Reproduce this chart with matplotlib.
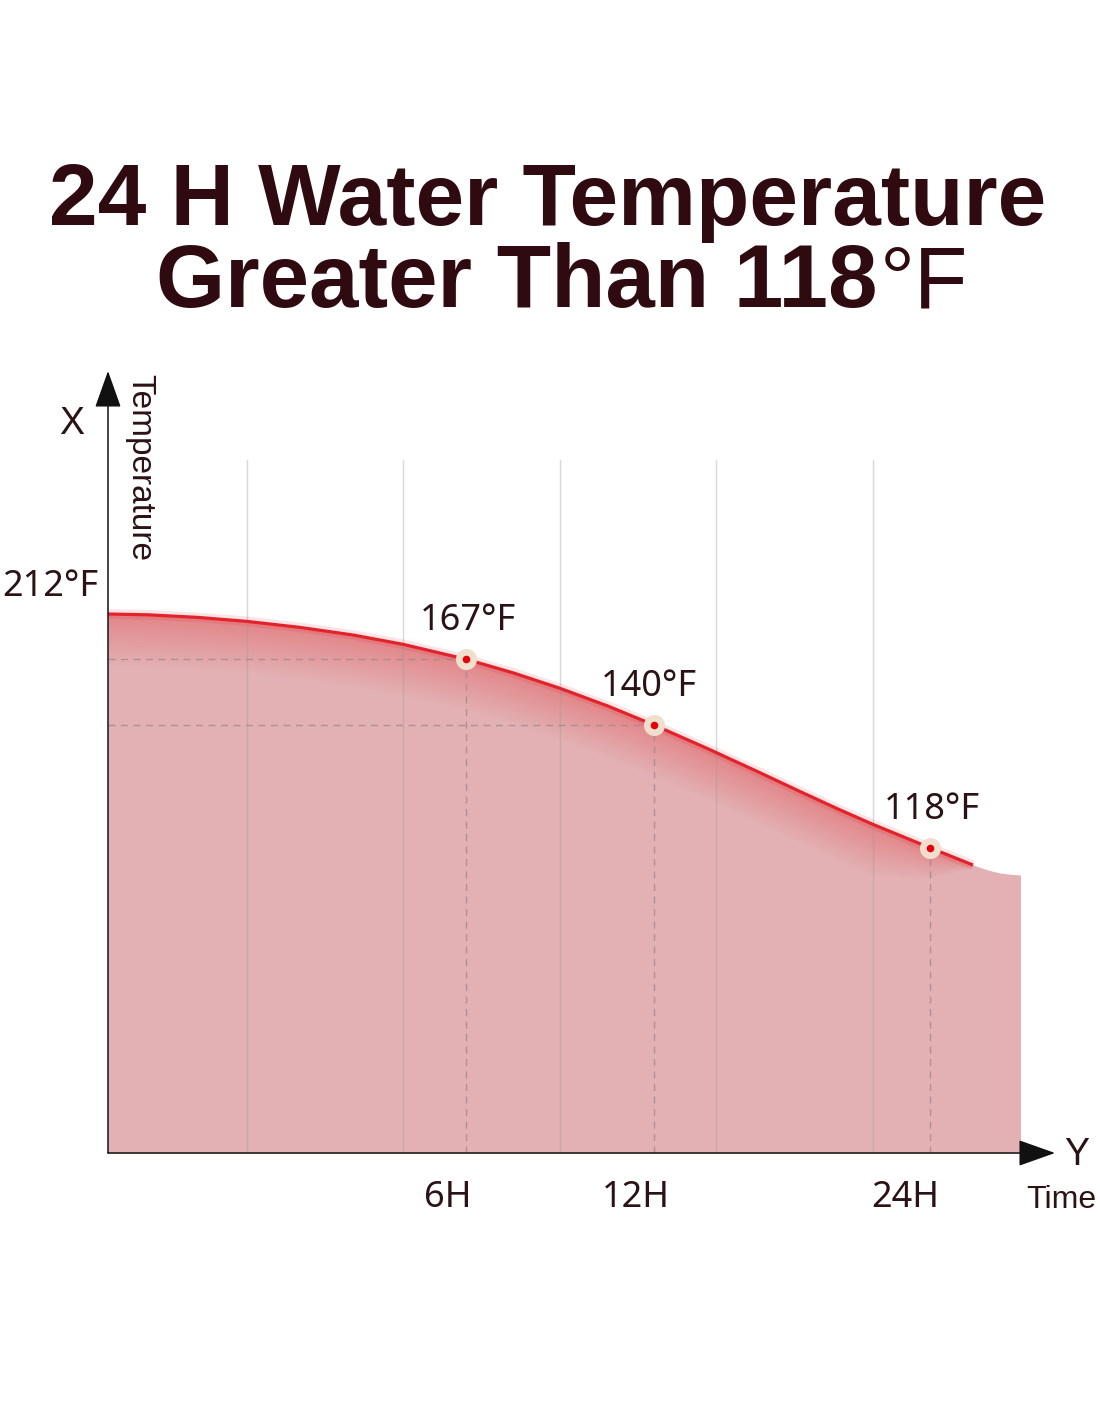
import matplotlib.pyplot as plt

# chart values
temps = ['212°F', '167°F', '140°F', '118°F']
time_labels = ['6H', '12H', '24H']

# curve (px from axis origin, x right / y up)
curve_x = [0, 40, 90, 139, 192, 245, 295, 358, 405, 452, 500, 546, 600, 650, 692, 730, 765, 822, 865]
curve_y = [539, 538.2, 535.6, 531.6, 525.6, 518, 508.7, 493.8, 480.2, 464.7, 446.9, 428,
           404.2, 381.2, 361.5, 344, 328.6, 305.2, 288]
tail_x = [865, 880, 892, 905, 913]
tail_y = [288, 283, 280, 278.5, 278]

# marked points (167, 140, 118 °F) and where the hour labels sit
point_x = [358, 546, 822]
point_y = [493.8, 428, 305.2]
label_x = [340, 528, 797]
grid_x = [139, 295, 452, 608, 765]

W, H = 1100, 1422
fig = plt.figure(figsize=(W / 100, H / 100), dpi=100)
ax = fig.add_axes([108 / W, (H - 1153) / H, 912 / W, 693 / H])
ax.set_xlim(0, 912)
ax.set_ylim(0, 693)
ax.axis('off')

fill_col = '#e3b1b3'
red = '#e3232b'
txt = '#2a1215'

# area under the curve
all_x = curve_x + tail_x[1:]
all_y = curve_y + tail_y[1:]
ax.fill_between(all_x, all_y, 0, color=fill_col, lw=0, zorder=1)

# reddish glow just under the line, fading out at the end of the line
taper = [1] * (len(curve_x) - 2) + [0.6, 0.05]
for d in range(1, 22):
    lower = [y - d * 2.4 * t for y, t in zip(curve_y, taper)]
    ax.fill_between(curve_x, lower, curve_y, color='#e2303a', alpha=0.016, lw=0, zorder=2)

# vertical grid lines
for gx in grid_x:
    ax.plot([gx, gx], [0, 693], color='#9a9a9a', alpha=0.38, lw=1, zorder=3)

# dashed guides
for px, py in zip(point_x, point_y):
    ax.plot([px, px], [0, py], color='#a08a8c', lw=1, ls=(0, (5, 4)), alpha=0.8, zorder=3)
for px, py in zip(point_x[:2], point_y[:2]):
    ax.plot([0, px], [py, py], color='#a08a8c', lw=1, ls=(0, (5, 4)), alpha=0.8, zorder=3)

# the red line with a soft halo
ax.plot(curve_x, curve_y, color=red, lw=7, alpha=0.12, solid_capstyle='butt', zorder=4)
ax.plot(curve_x, curve_y, color=red, lw=2.3, solid_capstyle='butt', zorder=4)

# points
ax.scatter(point_x, point_y, s=230, color='#efdfcc', lw=0, zorder=5)
ax.scatter(point_x, point_y, s=30, color='#e5000a', lw=0, zorder=6)

# axes with arrows
arrow = dict(arrowstyle='-|>,head_length=0.9,head_width=0.32', color='#111111', lw=1.1,
             mutation_scale=26, shrinkA=0, shrinkB=0)
ax.annotate('', xy=(0, 782), xytext=(0, 0), arrowprops=arrow, annotation_clip=False, zorder=7)
ax.annotate('', xy=(947, 0), xytext=(0, 0), arrowprops=arrow, annotation_clip=False, zorder=7)

lab = dict(family=['Noto Sans', 'DejaVu Sans'], color=txt, fontsize=26, clip_on=False)
ax.text(-58, 566, temps[0], ha='center', va='center', **lab)
for t, px, py in zip(temps[1:], point_x, point_y):
    ax.text(px + (2 if t != '140°F' else -5), py + 38, t, ha='center', va='center', **lab)
for t, lx in zip(time_labels, label_x):
    ax.text(lx, -45, t, ha='center', va='center', **lab)

plain = dict(family=['Liberation Sans', 'DejaVu Sans'], color=txt, clip_on=False)
ax.text(-36, 729, 'X', ha='center', va='center', fontsize=27, **plain)
ax.text(969, -2, 'Y', ha='center', va='center', fontsize=27, **plain)
ax.text(953, -47, 'Time', ha='center', va='center', fontsize=23, **plain)
ax.text(32, 686, 'Temperature', ha='center', va='center', rotation=270, fontsize=24, **plain)

# title
title_col = '#2f0b11'
fig.text(548 / W, 1 - 225 / H, '24 H Water Temperature', ha='center', va='baseline',
         fontsize=63, fontweight='bold', family='Liberation Sans', color=title_col)
fig.text(877 / W, 1 - 307 / H, 'Greater Than 118', ha='right', va='baseline',
         fontsize=64, fontweight='bold', family='Liberation Sans', color=title_col)
fig.text(880 / W, 1 - 307 / H, '°F', ha='left', va='baseline',
         fontsize=63, family='Liberation Sans', color=title_col)

fig.savefig('out.png', dpi=100, facecolor='white')
